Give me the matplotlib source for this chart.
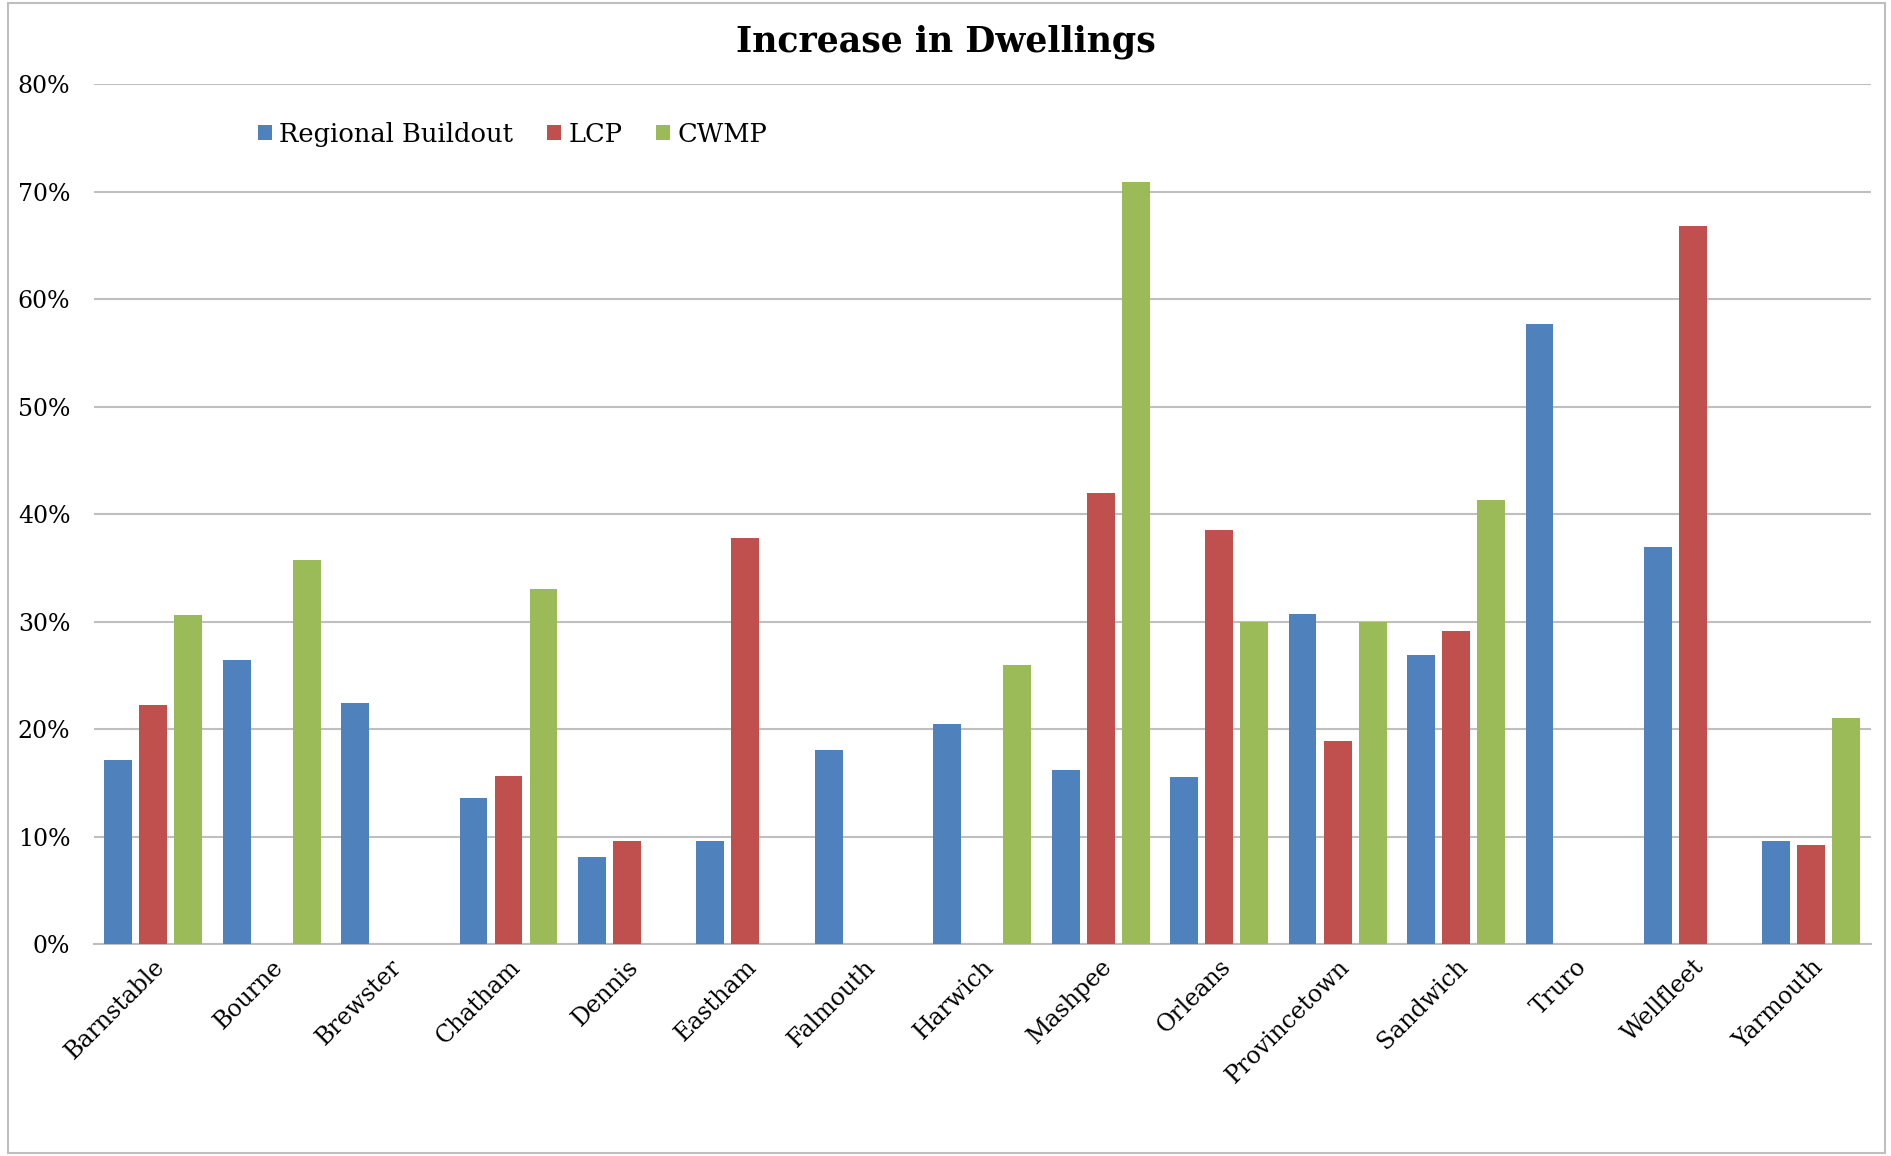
import matplotlib
matplotlib.use("Agg")
import matplotlib.pyplot as plt
import numpy as np
from matplotlib.patches import Rectangle, Patch

towns = ["Barnstable", "Bourne", "Brewster", "Chatham", "Dennis", "Eastham", "Falmouth",
         "Harwich", "Mashpee", "Orleans", "Provincetown", "Sandwich", "Truro", "Wellfleet", "Yarmouth"]
regional_buildout = [17.1, 26.4, 22.4, 13.6, 8.1, 9.6, 18.1, 20.5, 16.2, 15.5, 30.7, 26.9, 57.7, 36.9, 9.6]
lcp = [22.2, 0, 0, 15.6, 9.6, 37.8, 0, 0, 42.0, 38.5, 18.9, 29.1, 0, 66.8, 9.2]
cwmp = [30.6, 35.7, 0, 33.0, 0, 0, 0, 26.0, 70.9, 30.0, 30.0, 41.3, 0, 0, 21.0]
series_names = ["Regional Buildout", "LCP", "CWMP"]
colors = ["#4F81BD", "#C0504D", "#9BBB59"]
yticks = [0, 10, 20, 30, 40, 50, 60, 70, 80]

plt.rcParams['font.family'] = ['DejaVu Serif']

fig = plt.figure(figsize=(18.91, 11.56), dpi=100)
ax = fig.add_axes([0.0497, 0.1834, 0.9395, 0.7436])

x = np.arange(len(towns))
w = 0.235
off = 0.296
for i, (vals, c) in enumerate(zip([regional_buildout, lcp, cwmp], colors)):
    ax.bar(x + (i - 1) * off, vals, width=w, color=c, zorder=3)

ax.set_xlim(-0.5, len(towns) - 0.5)
ax.set_ylim(0, 80)
ax.set_yticks(yticks)
ax.set_yticklabels([f"{v}%" for v in yticks], fontsize=17)
ax.yaxis.grid(True, color="#BFBFBF", linewidth=1.5, zorder=0)
ax.tick_params(axis='y', length=0, pad=17)
ax.tick_params(axis='x', length=0, pad=8)
ax.set_xticks(x)
ax.set_xticklabels(towns, rotation=45, ha='right', rotation_mode='anchor', fontsize=17)
for s in ["top", "right", "left"]:
    ax.spines[s].set_visible(False)
ax.spines["bottom"].set_color("#BFBFBF")
ax.spines["bottom"].set_linewidth(1.5)

fig.text(0.5, 0.964, "Increase in Dwellings", ha='center', va='center', fontsize=25, fontweight='bold')

handles = [Patch(facecolor=c, edgecolor='none') for c in colors]
leg = fig.legend(handles, series_names, loc='center left', bbox_to_anchor=(0.124, 0.884), ncol=3,
                 frameon=False, fontsize=18.5, handlelength=0.55, handleheight=0.55, handletextpad=0.3,
                 columnspacing=1.3)

fig.patches.append(Rectangle((0.004, 0.003), 0.993, 0.994, transform=fig.transFigure,
                             fill=False, edgecolor="#BFBFBF", linewidth=1.5))

fig.savefig("out.png", dpi=100, facecolor="white")
